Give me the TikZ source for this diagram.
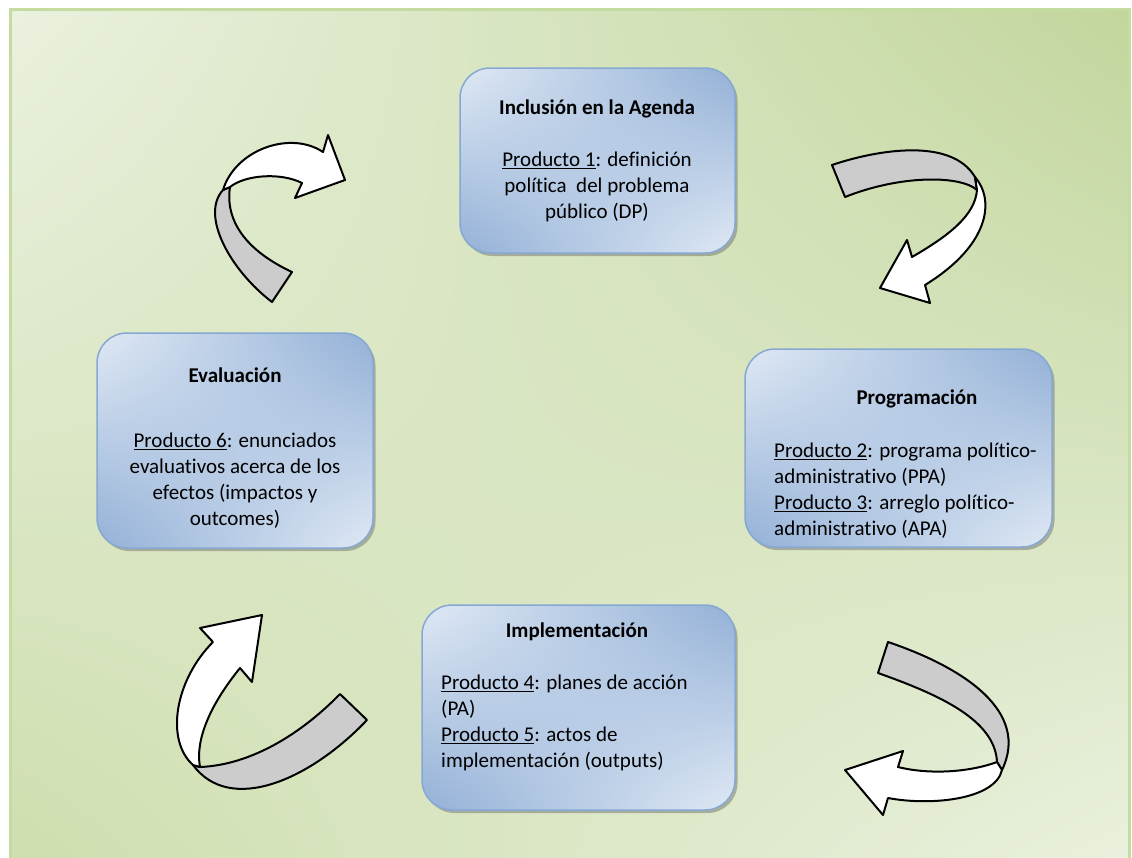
\documentclass[tikz,border=0pt]{standalone}
\usepackage{fontspec}
\setmainfont{Carlito}[Ligatures=NoCommon]
\usetikzlibrary{shadows,shadings}
\definecolor{fondoA}{RGB}{234,241,223}
\definecolor{fondoB}{RGB}{194,214,156}
\definecolor{fondoC}{RGB}{206,222,174}
\definecolor{borde}{RGB}{196,220,160}
\definecolor{cajaA}{RGB}{224,233,245}
\definecolor{cajaB}{RGB}{146,176,214}
\definecolor{cajaBorde}{RGB}{135,168,210}
\definecolor{cinta}{RGB}{204,204,204}
\newcommand\boxfont{\fontsize{21}{26}\selectfont}
\tikzset{
  caja/.style={rectangle, rounded corners=30pt, draw=cajaBorde, line width=1.5pt,
    upper left=cajaA, upper right=cajaB, lower left=cajaB, lower right=cajaA,
    drop shadow={shadow xshift=2.5pt, shadow yshift=-3pt, fill=black!60, opacity=.45}},
  titulo/.style={font=\boxfont\bfseries, inner sep=0pt, anchor=base},
  texto/.style={font=\boxfont, inner sep=0pt, anchor=north, align=center},
  textoizq/.style={texto, anchor=north west, align=left},
  atras/.style={fill=cinta, draw=black, line width=2pt, line join=round},
  frente/.style={fill=white, draw=black, line width=2pt, line join=round}
}
\begin{document}
\begin{tikzpicture}[x=1pt, y=-1pt]
  \useasboundingbox (0,0) rectangle (1132,857);
  % Fondo
  \shade[upper left=fondoA, upper right=fondoB, lower left=fondoC, lower right=fondoA]
    (10,9) rectangle (1129,875);
  \draw[borde, line width=3pt] (10,9) rectangle (1129,875);
  % Flecha Agenda -> Programacion
  \draw[atras] (832,165) .. controls (870,152) and (950,135) .. (975,177)
    -- (977,190) .. controls (960,175) and (900,175) .. (845,197) -- cycle;
  \draw[frente] (975,177) .. controls (995,200) and (990,245) .. (925,285)
    -- (930,303) -- (880,288) -- (907,240) -- (912,257)
    .. controls (950,235) and (975,215) .. (977,190) -- cycle;
  % Flecha Programacion -> Implementacion
  \draw[atras] (888,642) .. controls (965,668) and (1030,712) .. (1002,770)
    -- (997,762) .. controls (995,720) and (940,695) .. (878,673) -- cycle;
  \draw[frente] (997,762) .. controls (970,772) and (930,775) .. (898,767)
    -- (903,751) -- (845,770) -- (883,815) -- (888,798)
    .. controls (930,806) and (995,800) .. (1002,770) -- cycle;
  % Flecha Implementacion -> Evaluacion
  \draw[atras] (200,767) .. controls (250,765) and (300,735) .. (340,694)
    -- (367,720) .. controls (310,780) and (230,815) .. (193,765) -- cycle;
  \draw[frente] (193,765) .. controls (165,740) and (175,680) .. (213,642)
    -- (200,628) -- (262,615) -- (252,682) -- (240,668)
    .. controls (210,705) and (195,740) .. (200,767) -- cycle;
  % Flecha Evaluacion -> Agenda
  \draw[atras] (292,272) -- (272,302) .. controls (230,270) and (200,215) .. (223,190)
    -- (230,187) .. controls (225,220) and (245,250) .. (292,272) -- cycle;
  \draw[frente] (223,190) .. controls (235,150) and (290,130) .. (323,152)
    -- (328,135) -- (345,180) -- (295,198) -- (302,183)
    .. controls (280,172) and (245,175) .. (230,187) -- cycle;
  % Cajas
  \node[caja, minimum width=275pt, minimum height=185pt] (agenda) at (597.5,160.5) {};
  \node[caja, minimum width=307pt, minimum height=198pt] (prog) at (898.5,448) {};
  \node[caja, minimum width=313pt, minimum height=205pt] (impl) at (578.5,707.5) {};
  \node[caja, minimum width=276pt, minimum height=215pt] (eval) at (235,440.5) {};
  % Textos
  \node[titulo] (agendaT) at (597,114) {Inclusión en la Agenda};
  \node[texto] (agendaP) at (597,148) {\strut\underline{Producto 1}: definición\\
    política \ del problema\\ público (DP)};
  \node[titulo] (progT) at (917,404) {Programación};
  \node[textoizq] (progP) at (774,439) {\strut\underline{Producto 2}: programa político-\\
    administrativo (PPA)\\ \underline{Producto 3}: arreglo político-\\ administrativo (APA)};
  \node[titulo] (implT) at (577,637) {Implementación};
  \node[textoizq] (implP) at (441,671) {\strut\underline{Producto 4}: planes de acción\\
    (PA)\\ \underline{Producto 5}: actos de\\ implementación (outputs)};
  \node[titulo] (evalT) at (235,382) {Evaluación};
  \node[texto] (evalP) at (235,429) {\strut\underline{Producto 6}: enunciados\\
    evaluativos acerca de los\\ efectos (impactos y\\ outcomes)};
\end{tikzpicture}
\end{document}
